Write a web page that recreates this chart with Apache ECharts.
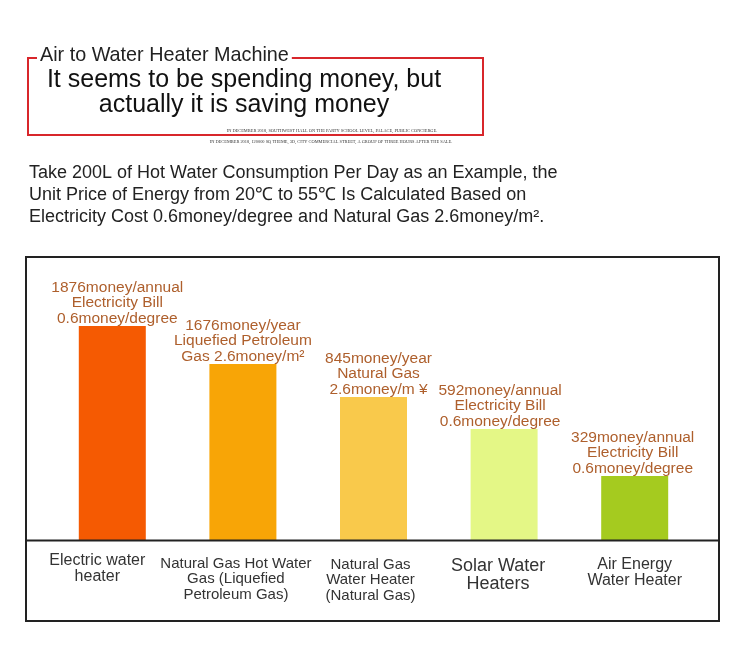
<!DOCTYPE html>
<html>
<head>
<meta charset="utf-8">
<script src="https://cdn.jsdelivr.net/npm/echarts@6/dist/echarts.min.js"></script>
<style>
html,body{margin:0;padding:0;background:#fff;}
#chart{width:749px;height:668px;}
</style>
</head>
<body>
<div id="chart"></div>
<script>
// ---- data ----
const categories = [
  ['Electric water', 'heater'],
  ['Natural Gas Hot Water', 'Gas (Liquefied', 'Petroleum Gas)'],
  ['Natural Gas', 'Water Heater', '(Natural Gas)'],
  ['Solar Water', 'Heaters'],
  ['Air Energy', 'Water Heater']
];
const annualCost = [1876, 1676, 845, 592, 329];
const costUnit = ['money/annual', 'money/year', 'money/year', 'money/annual', 'money/annual'];
const priceNotes = [
  ['Electricity Bill', '0.6money/degree'],
  ['Liquefied Petroleum', 'Gas 2.6money/m²'],
  ['Natural Gas', '2.6money/m ¥'],
  ['Electricity Bill', '0.6money/degree'],
  ['Electricity Bill', '0.6money/degree']
];
// bar lengths as drawn in the infographic (not proportional to cost)
const barLength = [214, 176, 143, 111, 64];
const barColors = ['#F55A02', '#F8A506', '#F9C94B', '#E4F786', '#A5CB1F'];

const titleSmall = 'Air to Water Heater Machine';
const titleBig = 'It seems to be spending money, but\nactually it is saving money';
const finePrint = [
  'IN DECEMBER 2018, SOUTHWEST HALL ON THE PARTY SCHOOL LEVEL, PALACE, PUBLIC CONCIERGE.',
  'IN DECEMBER 2018, 120000 SQ THEME, 3D, CITY COMMERCIAL STREET, A GROUP OF THREE HOURS AFTER THE SALE.'
];
const paragraph = [
  'Take 200L of Hot Water Consumption Per Day as an Example, the',
  'Unit Price of Energy from 20℃ to 55℃ Is Calculated Based on',
  'Electricity Cost 0.6money/degree and Natural Gas 2.6money/m².'
];

// ---- styling / layout ----
const FONT = '"Liberation Sans", Arial, sans-serif';
const catFont = [16, 15, 15, 18, 16];
const catLine = [16, 15.5, 15.5, 18, 16];
const catGap = [0, 3, 4, 4, 4];
const catShift = [30, 14, 6, 12, 0];
const labelDx = [5, 0, 5, -4, -2];

const chart = echarts.init(document.getElementById('chart'), null, {renderer: 'canvas'});

const rich = {};
catFont.forEach((fs, i) => {
  rich['c' + i] = {fontSize: fs, lineHeight: catLine[i], color: '#333', fontFamily: FONT,
                   padding: [0, catShift[i], 0, 0]};
  rich['g' + i] = {fontSize: 1, lineHeight: catGap[i] || 1};
});

const option = {
  backgroundColor: '#fff',
  animation: false,
  grid: {left: 47, right: 49, top: 290, bottom: 128, containLabel: false},
  xAxis: {
    type: 'category',
    data: categories.map(c => c.join('\n')),
    axisLine: {show: false},
    axisTick: {show: false},
    axisLabel: {
      interval: 0,
      margin: 13,
      formatter: function (value, idx) {
        const lines = value.split('\n').map(l => '{c' + idx + '|' + l + '}');
        if (catGap[idx]) lines.unshift('{g' + idx + '|\u00a0}');
        return lines.join('\n');
      },
      rich: rich
    }
  },
  yAxis: {
    type: 'value', min: 0, max: 250, show: false,
    splitLine: {show: false}
  },
  series: [{
    type: 'bar',
    barWidth: 67,
    data: barLength.map((v, i) => ({
      value: v,
      itemStyle: {color: barColors[i]},
      label: {offset: [labelDx[i], 0]}
    })),
    label: {
      show: true,
      position: 'top',
      distance: 0,
      color: '#AE5F2C',
      fontSize: 15.5,
      lineHeight: 15.5,
      fontFamily: FONT,
      formatter: function (p) {
        const i = p.dataIndex;
        return [annualCost[i] + costUnit[i]].concat(priceNotes[i]).join('\n');
      }
    }
  }],
  graphic: [
    // red frame
    {type: 'rect', shape: {x: 28, y: 58, width: 455, height: 77},
     style: {fill: 'none', stroke: '#D8262B', lineWidth: 2}, z: 1},
    {type: 'text', x: 37, y: 55.5, z: 2,
     style: {text: titleSmall, fontSize: 19.8, fontFamily: FONT, fill: '#222',
             verticalAlign: 'middle', align: 'left', backgroundColor: '#fff', padding: [0, 3]}},
    {type: 'text', x: 244, y: 67.5, z: 2,
     style: {text: titleBig, fontSize: 25, lineHeight: 25, fontFamily: FONT, fill: '#111',
             align: 'center', verticalAlign: 'top'}},
    {type: 'text', x: 332, y: 131, z: 2,
     style: {text: finePrint[0], fontSize: 4.4, fontFamily: '"Liberation Serif", serif', fill: '#333',
             align: 'center', verticalAlign: 'middle', backgroundColor: '#fff', padding: [1, 2]}},
    {type: 'text', x: 331, y: 142, z: 2,
     style: {text: finePrint[1], fontSize: 4.4, fontFamily: '"Liberation Serif", serif', fill: '#333',
             align: 'center', verticalAlign: 'middle'}},
    // paragraph
    {type: 'text', x: 29, y: 162, z: 2,
     style: {text: paragraph.join('\n'), fontSize: 18, lineHeight: 22, fontFamily: FONT, fill: '#222',
             align: 'left', verticalAlign: 'top'}},
    // chart box
    {type: 'rect', shape: {x: 26, y: 257, width: 693, height: 364},
     style: {fill: 'none', stroke: '#222', lineWidth: 2}, z: 3},
    {type: 'line', shape: {x1: 26, y1: 540.5, x2: 719, y2: 540.5},
     style: {stroke: '#222', lineWidth: 2}, z: 3}
  ]
};
chart.setOption(option);
</script>
</body>
</html>
